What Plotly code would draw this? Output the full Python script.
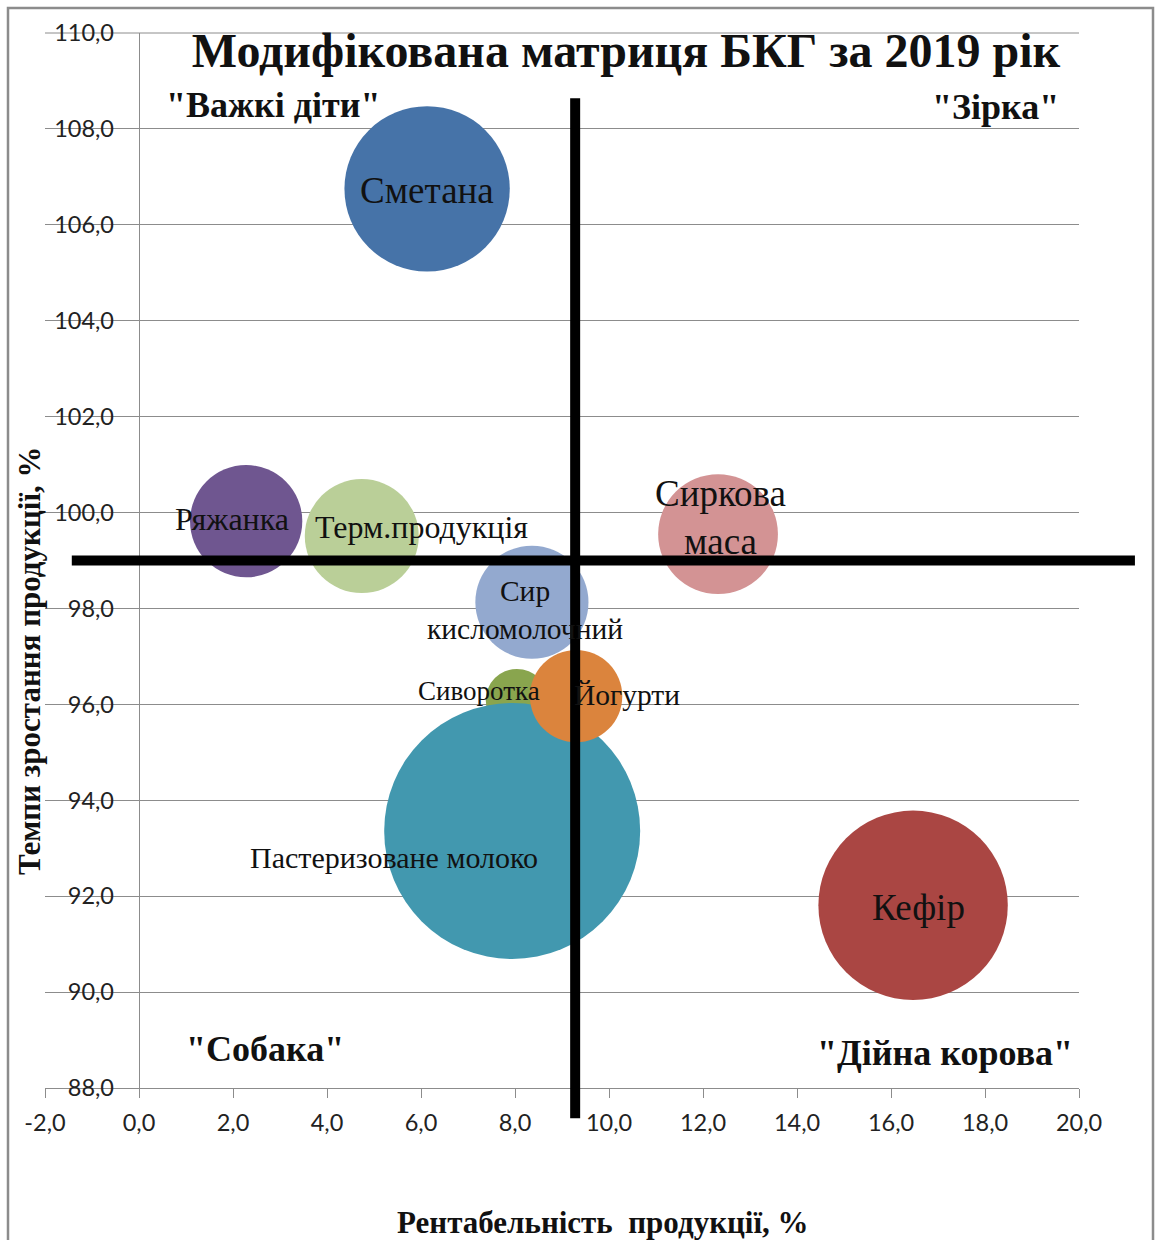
import plotly.graph_objects as go

# ---------------- data ----------------
products = ["Сметана", "Ряжанка", "Терм.продукція", "Сир кисломолочний", "Сиворотка",
            "Пастеризоване молоко", "Йогурти", "Кефір", "Сиркова маса"]
profitability = [6.13, 2.28, 4.74, 8.36, 8.04, 7.94, 9.30, 16.47, 12.32]      # x, %
growth_rate = [106.75, 99.82, 99.51, 98.13, 96.09, 93.36, 96.17, 91.81, 99.55]  # y, %
sales_share = [14.1, 6.5, 6.7, 6.6, 2.0, 33.8, 4.4, 18.5, 7.4]                 # bubble size
label_text = ["Сметана", "Ряжанка", "Терм.продукція", "Сир<br>кисломолочний", "Сиворотка",
              "Пастеризоване молоко", "Йогурти", "Кефір", "Сиркова<br>маса"]

avg_profitability = 9.28   # vertical divider
avg_growth = 99.0          # horizontal divider

x_ticks = [-2, 0, 2, 4, 6, 8, 10, 12, 14, 16, 18, 20]
y_ticks = [88, 90, 92, 94, 96, 98, 100, 102, 104, 106, 108, 110]
x_ticktext = [f"{v:.1f}".replace(".", ",") for v in x_ticks]
y_ticktext = [f"{v:.1f}".replace(".", ",") for v in y_ticks]

# ---------------- styles ----------------
colors = ["#4673A8", "#6F5690", "#BACF98", "#93A9CF", "#89A54E",
          "#4298AF", "#DB843D", "#AA4643", "#D39394"]
label_sizes = [37, 32, 32, 29.5, 27, 30, 29.5, 37, 37]
label_offsets = [(0, 2), (-14, -2), (60, -9), (-7, 8), (-38, -9),
                 (-118, 27), (51, -1), (5, 2), (2, -17)]  # px (right, down)

W, H = 1157, 1240
ML, MR, MT, MB = 45, 78, 33, 152
PW, PH = W - ML - MR, H - MT - MB
XR = [x_ticks[0], x_ticks[-1]]
YR = [y_ticks[0], y_ticks[-1]]


def px_x(px):
    return (px - ML) / PW


def px_y(py):
    return (H - MB - py) / PH


def dx_paper(v):
    return (v - XR[0]) / (XR[1] - XR[0])


def dy_paper(v):
    return (v - YR[0]) / (YR[1] - YR[0])


serif = "Liberation Serif, Times New Roman, serif"
max_diam = 256
sizeref = 2.0 * max(sales_share) / (max_diam ** 2)
grid_color = "#8C8C8C"

fig = go.Figure()
fig.add_trace(go.Scatter(
    x=profitability, y=growth_rate, mode="markers",
    marker=dict(size=sales_share, sizemode="area", sizeref=sizeref,
                color=colors, opacity=1, line=dict(width=0)),
    text=products, hoverinfo="text", showlegend=False, cliponaxis=False,
))
# transparent copy on the label axis so it is drawn
fig.add_trace(go.Scatter(
    x=profitability, y=growth_rate, mode="markers", yaxis="y2",
    marker=dict(size=1, opacity=0), hoverinfo="skip", showlegend=False,
))

annotations = []
for xv, yv, t, fs, (ox, oy) in zip(profitability, growth_rate, label_text, label_sizes, label_offsets):
    annotations.append(dict(
        x=xv, y=yv, xref="x", yref="y", text=t, showarrow=False,
        xshift=ox, yshift=-oy, font=dict(family=serif, size=fs, color="#111"),
        align="center", xanchor="center", yanchor="middle",
    ))

quad_font = dict(family=serif, size=36, color="#111")
for txt, (px, py) in [('<b>"Важкі діти"</b>', (273, 105)), ('<b>"Зірка"</b>', (995, 107)),
                      ('<b>"Собака"</b>', (265, 1049)), ('<b>"Дійна корова"</b>', (945, 1053))]:
    annotations.append(dict(x=px_x(px), y=px_y(py), xref="paper", yref="paper", text=txt,
                            showarrow=False, font=quad_font, xanchor="center", yanchor="middle"))

annotations.append(dict(x=px_x(603), y=px_y(1222), xref="paper", yref="paper",
                        text="<b>Рентабельність  продукції, %</b>", showarrow=False,
                        xanchor="center", yanchor="middle",
                        font=dict(family=serif, size=31, color="#111")))
annotations.append(dict(x=px_x(30), y=px_y(661), xref="paper", yref="paper",
                        text="<b>Темпи зростання продукції, %</b>", showarrow=False, textangle=-90,
                        xanchor="center", yanchor="middle",
                        font=dict(family=serif, size=31, color="#111")))

shapes = [
    # chart border
    dict(type="rect", xref="paper", yref="paper", x0=px_x(8), x1=px_x(1153), y0=px_y(8), y1=px_y(1300),
         line=dict(color=grid_color, width=2.5), fillcolor="rgba(0,0,0,0)", layer="below"),
    # top gridline (plotly omits the one on the range edge)
    dict(type="line", xref="paper", yref="paper", x0=0, x1=1, y0=1, y1=1,
         line=dict(color=grid_color, width=1), layer="below"),
    # dividers
    dict(type="line", xref="x", yref="paper", x0=avg_profitability, x1=avg_profitability,
         y0=dy_paper(87.37), y1=dy_paper(108.64), line=dict(color="black", width=10), layer="above"),
    dict(type="line", xref="paper", yref="y", y0=avg_growth, y1=avg_growth,
         x0=dx_paper(-1.43), x1=dx_paper(21.19), line=dict(color="black", width=10), layer="above"),
]

tick_font = dict(family="Lato, Open Sans, sans-serif", size=23.5, color="#222")

fig.update_layout(
    width=W, height=H,
    margin=dict(l=ML, r=MR, t=MT, b=MB, pad=0),
    paper_bgcolor="white", plot_bgcolor="white",
    title=dict(text="<b>Модифікована матриця БКГ за 2019 рік</b>",
               x=626 / W, y=1 - 50 / H, xanchor="center", yanchor="middle",
               font=dict(family=serif, size=48, color="#111")),
    xaxis=dict(range=XR, tickvals=x_ticks, ticktext=x_ticktext, showgrid=False,
               showline=True, linecolor=grid_color, linewidth=1,
               ticks="outside", ticklen=9, tickcolor=grid_color, tickwidth=1,
               zeroline=True, zerolinecolor=grid_color, zerolinewidth=1,
               tickfont=tick_font, ticklabelstandoff=5),
    yaxis=dict(range=YR, tickvals=y_ticks, showgrid=True, gridcolor=grid_color, gridwidth=1,
               showticklabels=False, ticks="", showline=False, zeroline=False),
    yaxis2=dict(range=YR, tickvals=y_ticks, ticktext=y_ticktext, overlaying="y", anchor="free",
                position=px_x(114), side="left", showgrid=False, showline=False, ticks="",
                zeroline=False, tickfont=tick_font),
    annotations=annotations, shapes=shapes,
)

fig.write_html("out.html")
